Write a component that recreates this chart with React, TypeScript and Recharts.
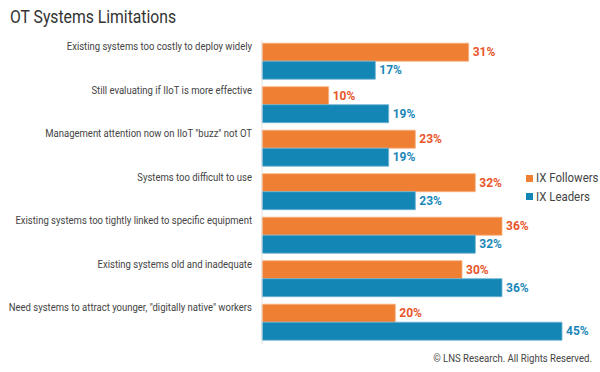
import React from 'react';
import { Bar, BarChart, LabelList, XAxis, YAxis } from 'recharts';

const categories = [
	'Existing systems too costly to deploy widely',
	'Still evaluating if IIoT is more effective',
	'Management attention now on IIoT "buzz" not OT',
	'Systems too difficult to use',
	'Existing systems too tightly linked to specific equipment',
	'Existing systems old and inadequate',
	'Need systems to attract younger, "digitally native" workers',
];
const followers = [31, 10, 23, 32, 36, 30, 20];
const leaders = [17, 19, 19, 23, 32, 36, 45];

const data = categories.map((name, i) => ({
	name,
	'IX Followers': followers[i],
	'IX Leaders': leaders[i],
}));

const FONT = 'Roboto, sans-serif';
const ORANGE = '#ef8033';
const BLUE = '#1486b5';

// the original uses a condensed face; squeeze Roboto to about the same width
const CategoryTick = (props: any) => {
	const { x, y, payload } = props;
	return (
		<text
			transform={`translate(${x},${y - 11}) scale(0.85,1)`}
			textAnchor="end"
			fill="#444"
			fontSize={11.2}
			fontFamily={FONT}
		>
			{payload.value}
		</text>
	);
};

const squeeze = (s: number, origin = 'left'): React.CSSProperties => ({
	transform: `scaleX(${s})`,
	transformOrigin: `${origin} top`,
	whiteSpace: 'nowrap',
});

const App = () => {
	return (
		<div style={{ position: 'absolute', left: 0, top: 0, width: 600, height: 372, background: '#fff', fontFamily: FONT }}>
			<div style={{ position: 'absolute', left: 10, top: 6, fontSize: 18.3, color: '#333', ...squeeze(0.86) }}>
				OT Systems Limitations
			</div>
			<BarChart
				width={600}
				height={372}
				data={data}
				layout="vertical"
				margin={{ top: 39.5, right: 38, bottom: 28, left: 8 }}
				barCategoryGap={3.7}
				barGap={0}
			>
				<XAxis type="number" domain={[0, 45]} hide />
				<YAxis
					type="category"
					dataKey="name"
					width={254}
					tickSize={0}
					tickMargin={10}
					tickLine={false}
					axisLine={{ stroke: '#e2e2e2' }}
					tick={<CategoryTick />}
					interval={0}
				/>
				<Bar dataKey="IX Followers" fill={ORANGE} stroke="#f7b080" strokeWidth={0.8} isAnimationActive={false}>
					<LabelList
						dataKey="IX Followers"
						position="right"
						offset={4}
						formatter={(v: any) => `${v}%`}
						fill="#e8552a"
						fontSize={12}
						fontWeight="bold"
						fontFamily={FONT}
					/>
				</Bar>
				<Bar dataKey="IX Leaders" fill={BLUE} stroke="#6db3d3" strokeWidth={0.8} isAnimationActive={false}>
					<LabelList
						dataKey="IX Leaders"
						position="right"
						offset={4}
						formatter={(v: any) => `${v}%`}
						fill="#1a87b8"
						fontSize={12}
						fontWeight="bold"
						fontFamily={FONT}
					/>
				</Bar>
			</BarChart>
			<div style={{ position: 'absolute', left: 526, top: 169, fontSize: 13, color: '#444', lineHeight: '18.5px' }}>
				{[
					['IX Followers', ORANGE],
					['IX Leaders', BLUE],
				].map(([label, color]) => (
					<div key={label} style={{ display: 'flex', alignItems: 'center', whiteSpace: 'nowrap' }}>
						<span style={{ width: 7, height: 7, background: color, marginRight: 3, flex: 'none' }} />
						<span style={squeeze(0.88)}>{label}</span>
					</div>
				))}
			</div>
			<div style={{ position: 'absolute', right: 8, top: 351, fontSize: 11.8, color: '#444', ...squeeze(0.81, 'right') }}>
				© LNS Research. All Rights Reserved.
			</div>
		</div>
	);
};

export default App;
